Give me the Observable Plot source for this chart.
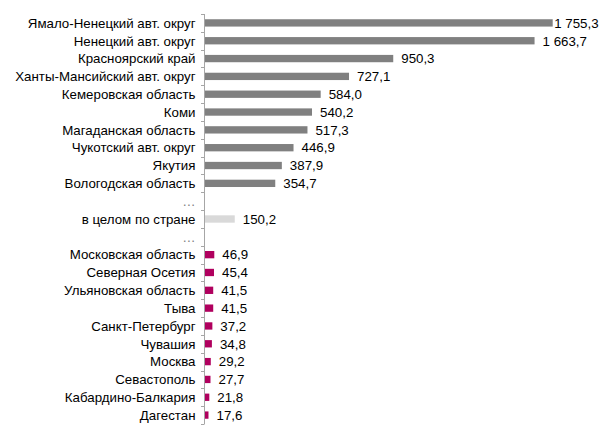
<!DOCTYPE html>
<html>
<head>
<meta charset="utf-8">
<script src="https://cdn.jsdelivr.net/npm/d3@7"></script>
<script src="https://cdn.jsdelivr.net/npm/@observablehq/plot@0.6"></script>
<style>
  html, body { margin: 0; padding: 0; background: #fff; }
  #chart { width: 600px; height: 437px; }
</style>
</head>
<body>
<div id="chart"></div>
<script>
// ---- data ----
const topRegions = [
  "Ямало-Ненецкий авт. округ", "Ненецкий авт. округ", "Красноярский край",
  "Ханты-Мансийский авт. округ", "Кемеровская область", "Коми",
  "Магаданская область", "Чукотский авт. округ", "Якутия", "Вологодская область"
];
const topValues = [1755.3, 1663.7, 950.3, 727.1, 584.0, 540.2, 517.3, 446.9, 387.9, 354.7];

const avgLabel = "в целом по стране";
const avgValue = 150.2;

const bottomRegions = [
  "Московская область", "Северная Осетия", "Ульяновская область", "Тыва",
  "Санкт-Петербург", "Чувашия", "Москва", "Севастополь", "Кабардино-Балкария", "Дагестан"
];
const bottomValues = [46.9, 45.4, 41.5, 41.5, 37.2, 34.8, 29.2, 27.7, 21.8, 17.6];

const gapLabel = "…";
const kinds = ["top", "avg", "bottom"];
const kindColors = ["#808080", "#d9d9d9", "#b0005e"];

// ---- rows ----
const rows = [];
topRegions.forEach((r, i) => rows.push({label: r, value: topValues[i], kind: "top"}));
rows.push({label: gapLabel, value: null, kind: "gap"});
rows.push({label: avgLabel, value: avgValue, kind: "avg"});
rows.push({label: gapLabel, value: null, kind: "gap"});
bottomRegions.forEach((r, i) => rows.push({label: r, value: bottomValues[i], kind: "bottom"}));
rows.forEach((d, i) => d.key = i);
const bars = rows.filter(d => d.value != null);
const maxValue = d3.max(topValues);
const barsMax = bars.filter(d => d.value === maxValue);
const barsRest = bars.filter(d => d.value !== maxValue);

const ru = d3.formatLocale({decimal: ",", thousands: "\u00a0", grouping: [3], currency: ["", ""]});
const fmt = ru.format(",.1f");

// axis line + boundary ticks, drawn from scales/dimensions
function categoryAxis(index, scales, values, dims) {
  const g = d3.create("svg:g");
  const x0 = Math.round(scales.x(0)) - 0.5;
  const top = dims.marginTop, bottom = dims.height - dims.marginBottom;
  const step = (bottom - top) / rows.length;
  g.append("line").attr("x1", x0).attr("x2", x0).attr("y1", top).attr("y2", bottom)
    .attr("stroke", "#a6a6a6").attr("stroke-width", 1);
  for (let i = 0; i <= rows.length; i++) {
    const y = Math.round(top + i * step) + 0.5;
    g.append("line").attr("x1", x0 - 3.5).attr("x2", x0).attr("y1", y).attr("y2", y)
      .attr("stroke", "#a6a6a6").attr("stroke-width", 1);
  }
  return g.node();
}

const FS = 13.3;
const chart = Plot.plot({
  width: 600,
  height: 437,
  marginLeft: 205,
  marginRight: 47.3,
  marginTop: 14,
  marginBottom: 13,
  style: {fontFamily: "'Liberation Sans', Arial, sans-serif", fontSize: FS + "px", background: "#fff", overflow: "visible"},
  x: {domain: [0, maxValue], axis: null},
  y: {domain: rows.map(d => d.key), padding: 0, round: false, axis: null},
  color: {domain: kinds, range: kindColors},
  marks: [
    Plot.barX(bars, {x: "value", y: "key", fill: "kind", insetTop: 5.25, insetBottom: 5.25}),
    categoryAxis,
    Plot.text(barsRest, {x: "value", y: "key", text: d => fmt(d.value), textAnchor: "start", dx: 7.5, fill: "#000", fontSize: FS}),
    Plot.text(barsMax, {x: "value", y: "key", text: d => fmt(d.value), textAnchor: "start", dx: 1, fill: "#000", fontSize: FS}),
    Plot.text(rows, {y: "key", text: "label", frameAnchor: "left", textAnchor: "end", dx: -10, fill: d => d.kind === "gap" ? "#7f7f7f" : "#000", fontSize: FS})
  ]
});
document.getElementById("chart").append(chart);
</script>
</body>
</html>
